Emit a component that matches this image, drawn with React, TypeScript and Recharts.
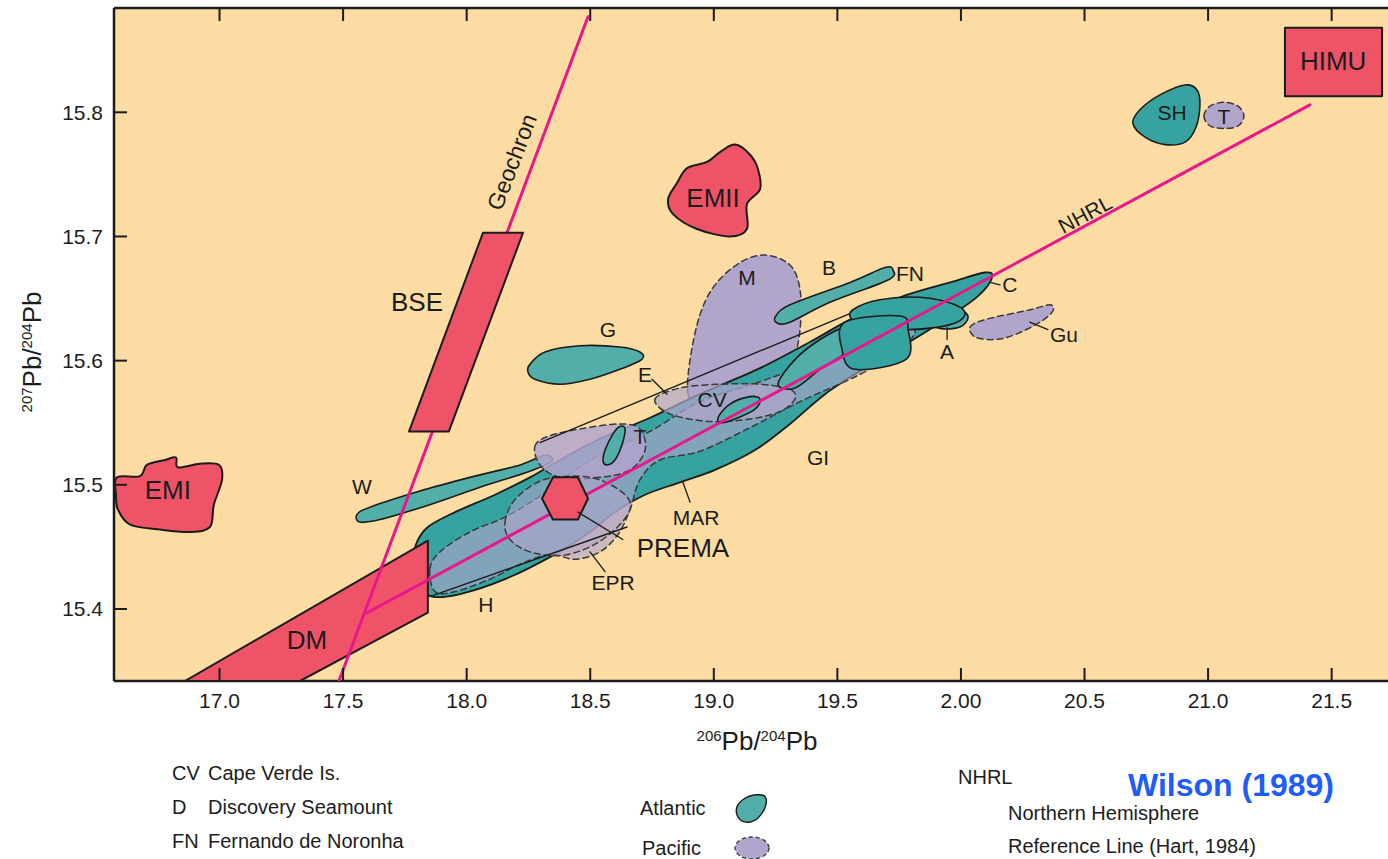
import React from "react";
import { ScatterChart, Scatter, XAxis, YAxis, ReferenceArea } from "recharts";

const FONT = '"Liberation Sans", Arial, Helvetica, sans-serif';
const INK = "#1c1c1c";
const PEACH = "#fcdca2";
const RED = "#ef5368";
const TEAL = "#36a3a1";
const TEAL_LIGHT = "#52aea9";
const LILAC = "#b2a5cc";
const MAGENTA = "#e8178c";

// 206Pb/204Pb (x) and 207Pb/204Pb (y) ranges
const xRange = [16.573, 21.728];
const yRange = [15.342, 15.884];

const xTicks = [17, 17.5, 18, 18.5, 19, 19.5, 20, 20.5, 21, 21.5];
const xTickLabels = ["17.0", "17.5", "18.0", "18.5", "19.0", "19.5", "2.00", "20.5", "21.0", "21.5"];
const yTicks = [15.4, 15.5, 15.6, 15.7, 15.8];
const yTickLabels = ["15.4", "15.5", "15.6", "15.7", "15.8"];

type Pt = { x: number; y: number };
const pts = (arr: number[][]): Pt[] => arr.map(([x, y]) => ({ x, y }));

// mantle end-members
const dmBox = pts([[16.86, 15.342], [17.326, 15.342], [17.843, 15.397], [17.843, 15.455]]);
const bseBox = pts([[18.066, 15.703], [18.228, 15.703], [17.928, 15.543], [17.767, 15.543]]);
const himuBox = pts([[21.311, 15.868], [21.704, 15.868], [21.704, 15.813], [21.311, 15.813]]);
const premaHex = pts([[18.305, 15.489], [18.349, 15.506], [18.45, 15.506], [18.491, 15.489], [18.45, 15.472], [18.349, 15.472]]);
const emiBlob = pts([[16.585, 15.506], [16.678, 15.507], [16.706, 15.516], [16.779, 15.52], [16.824, 15.522], [16.832, 15.514], [16.921, 15.517], [16.998, 15.516], [17.01, 15.504], [16.977, 15.484], [16.961, 15.466], [16.88, 15.462], [16.759, 15.464], [16.638, 15.468], [16.589, 15.48], [16.581, 15.492]]);
const emiiBlob = pts([[18.892, 15.755], [18.972, 15.76], [19.025, 15.768], [19.086, 15.774], [19.146, 15.766], [19.179, 15.754], [19.187, 15.738], [19.134, 15.726], [19.134, 15.706], [19.065, 15.7], [18.932, 15.706], [18.835, 15.718], [18.815, 15.73], [18.851, 15.743]]);

// reference lines
const geochron = pts([[17.483, 15.342], [18.491, 15.877]]);
const nhrl = pts([[17.597, 15.397], [21.412, 15.806]]);

// Atlantic islands / ridge
const marField = pts([[17.787, 15.436], [17.795, 15.452], [17.843, 15.466], [17.953, 15.478], [18.115, 15.492], [18.256, 15.506], [18.378, 15.52], [18.539, 15.537], [18.742, 15.554], [18.944, 15.573], [19.187, 15.594], [19.389, 15.615], [19.551, 15.633], [19.753, 15.651], [19.956, 15.663], [20.097, 15.671], [20.126, 15.667], [20.069, 15.652], [19.935, 15.633], [19.774, 15.613], [19.612, 15.594], [19.45, 15.573], [19.308, 15.549], [19.167, 15.528], [19.005, 15.512], [18.863, 15.502], [18.722, 15.492], [18.6, 15.478], [18.499, 15.462], [18.357, 15.444], [18.155, 15.424], [17.973, 15.412], [17.86, 15.41], [17.803, 15.42]]);
const walvis = pts([[17.556, 15.476], [17.609, 15.482], [17.811, 15.495], [18.013, 15.506], [18.216, 15.516], [18.317, 15.524], [18.345, 15.519], [18.256, 15.511], [18.054, 15.498], [17.851, 15.484], [17.649, 15.472], [17.568, 15.47]]);
const gough = pts([[18.256, 15.597], [18.317, 15.607], [18.458, 15.612], [18.62, 15.611], [18.701, 15.607], [18.709, 15.601], [18.62, 15.593], [18.499, 15.585], [18.378, 15.581], [18.276, 15.585], [18.248, 15.591]]);
const bermudaFN = pts([[19.248, 15.635], [19.308, 15.645], [19.551, 15.663], [19.693, 15.675], [19.725, 15.673], [19.705, 15.665], [19.47, 15.647], [19.308, 15.631], [19.26, 15.63]]);
const stHelena = pts([[20.724, 15.802], [20.805, 15.814], [20.907, 15.822], [20.955, 15.818], [20.967, 15.806], [20.951, 15.788], [20.907, 15.776], [20.826, 15.774], [20.745, 15.78], [20.696, 15.791]]);
const tristan = pts([[18.552, 15.519], [18.56, 15.528], [18.592, 15.541], [18.62, 15.547], [18.641, 15.545], [18.628, 15.532], [18.6, 15.52], [18.568, 15.516]]);
const capeVerde = pts([[19.017, 15.554], [19.065, 15.565], [19.146, 15.571], [19.187, 15.569], [19.167, 15.561], [19.086, 15.553], [19.033, 15.55]]);
const ascension = pts([[19.854, 15.633], [19.915, 15.641], [19.996, 15.641], [20.029, 15.635], [19.996, 15.627], [19.915, 15.626]]);
const azoresA = pts([[19.563, 15.641], [19.672, 15.649], [19.834, 15.651], [19.976, 15.645], [20.016, 15.637], [19.956, 15.629], [19.794, 15.625], [19.632, 15.627], [19.559, 15.633]]);
const azoresB = pts([[19.531, 15.631], [19.753, 15.636], [19.786, 15.625], [19.778, 15.601], [19.571, 15.593], [19.519, 15.609]]);
const azoresC = pts([[19.26, 15.581], [19.329, 15.601], [19.43, 15.617], [19.531, 15.627], [19.6, 15.625], [19.551, 15.609], [19.43, 15.593], [19.329, 15.578]]);

// Pacific islands / rise
const eprField = pts([[17.851, 15.432], [17.892, 15.446], [18.013, 15.462], [18.155, 15.474], [18.297, 15.491], [18.398, 15.506], [18.539, 15.524], [18.742, 15.543], [18.944, 15.567], [19.187, 15.583], [19.43, 15.601], [19.632, 15.617], [19.774, 15.629], [19.814, 15.623], [19.753, 15.609], [19.592, 15.589], [19.349, 15.567], [19.146, 15.546], [18.944, 15.527], [18.782, 15.52], [18.701, 15.504], [18.661, 15.48], [18.612, 15.46], [18.539, 15.446], [18.438, 15.44], [18.337, 15.444], [18.216, 15.436], [18.094, 15.424], [17.953, 15.414], [17.872, 15.414]]);
const tahitiZone = pts([[18.276, 15.531], [18.329, 15.539], [18.458, 15.545], [18.62, 15.549], [18.701, 15.545], [18.722, 15.528], [18.661, 15.512], [18.539, 15.506], [18.378, 15.506], [18.297, 15.516]]);
const premaLoop = pts([[18.155, 15.47], [18.195, 15.488], [18.297, 15.503], [18.418, 15.507], [18.539, 15.504], [18.641, 15.492], [18.661, 15.48], [18.6, 15.464], [18.499, 15.45], [18.378, 15.443], [18.256, 15.446], [18.175, 15.456]]);
const cvLoop = pts([[18.762, 15.569], [18.863, 15.578], [19.025, 15.581], [19.187, 15.581], [19.308, 15.577], [19.328, 15.569], [19.268, 15.559], [19.146, 15.553], [18.985, 15.551], [18.823, 15.557]]);
const marquesas = pts([[18.896, 15.573], [18.904, 15.601], [18.944, 15.637], [19.005, 15.661], [19.106, 15.679], [19.207, 15.685], [19.308, 15.677], [19.349, 15.657], [19.349, 15.625], [19.32, 15.597], [19.268, 15.573], [19.106, 15.561], [18.944, 15.565]]);
const guadalupe = pts([[20.037, 15.627], [20.097, 15.633], [20.279, 15.641], [20.36, 15.645], [20.372, 15.64], [20.32, 15.631], [20.219, 15.621], [20.138, 15.617], [20.057, 15.619]]);
const tubuai = pts([[20.983, 15.797], [21.008, 15.805], [21.064, 15.808], [21.121, 15.805], [21.145, 15.797], [21.121, 15.789], [21.064, 15.787], [21.008, 15.789]]);
const hawaiiUpper = pts([[18.297, 15.534], [19.672, 15.648]]);
const hawaiiLower = pts([[17.851, 15.41], [18.649, 15.466]]);

// label leaders
const leaders = [
  pts([[18.45, 15.478], [18.632, 15.456]]),
  pts([[18.499, 15.446], [18.56, 15.43]]),
  pts([[18.875, 15.502], [18.904, 15.486]]),
  pts([[18.75, 15.585], [18.811, 15.573]]),
  pts([[20.118, 15.663], [20.158, 15.661]]),
  pts([[19.944, 15.627], [19.944, 15.617]]),
  pts([[20.279, 15.631], [20.352, 15.625]]),
];

const bigLabels = [
  { x: 16.791, y: 15.496, text: "EMI" },
  { x: 18.997, y: 15.731, text: "EMII" },
  { x: 21.506, y: 15.841, text: "HIMU" },
  { x: 17.799, y: 15.647, text: "BSE" },
  { x: 17.354, y: 15.375, text: "DM" },
  { x: 18.875, y: 15.449, text: "PREMA" },
];
const smallLabels = [
  { x: 17.576, y: 15.499, text: "W" },
  { x: 18.701, y: 15.539, text: "T" },
  { x: 18.993, y: 15.569, text: "CV" },
  { x: 18.722, y: 15.589, text: "E" },
  { x: 18.572, y: 15.625, text: "G" },
  { x: 19.134, y: 15.667, text: "M" },
  { x: 19.466, y: 15.675, text: "B" },
  { x: 19.794, y: 15.67, text: "FN" },
  { x: 20.198, y: 15.661, text: "C" },
  { x: 19.944, y: 15.607, text: "A" },
  { x: 20.417, y: 15.621, text: "Gu" },
  { x: 19.422, y: 15.522, text: "GI" },
  { x: 20.854, y: 15.8, text: "SH" },
  { x: 21.064, y: 15.797, text: "T" },
  { x: 18.592, y: 15.421, text: "EPR" },
  { x: 18.928, y: 15.474, text: "MAR" },
  { x: 18.078, y: 15.404, text: "H" },
];
const geochronLabel = [{ x: 18.183, y: 15.76, text: "Geochron" }];
const nhrlLabel = [{ x: 20.502, y: 15.718, text: "NHRL" }];

// closed Catmull-Rom outline through the points
function smoothClosed(p: Pt[]) {
  const n = p.length;
  let d = `M${p[0].x},${p[0].y}`;
  for (let i = 0; i < n; i++) {
    const p0 = p[(i - 1 + n) % n];
    const p1 = p[i];
    const p2 = p[(i + 1) % n];
    const p3 = p[(i + 2) % n];
    const c1x = p1.x + (p2.x - p0.x) / 6;
    const c1y = p1.y + (p2.y - p0.y) / 6;
    const c2x = p2.x - (p3.x - p1.x) / 6;
    const c2y = p2.y - (p3.y - p1.y) / 6;
    d += `C${c1x},${c1y} ${c2x},${c2y} ${p2.x},${p2.y}`;
  }
  return d + "Z";
}

function straight(p: Pt[], closed: boolean) {
  const d = p.map((q, i) => `${i ? "L" : "M"}${q.x},${q.y}`).join("");
  return closed ? d + "Z" : d;
}

const noDot = () => <g />;

type Look = {
  fill?: string;
  opacity?: number;
  stroke?: string;
  width?: number;
  dash?: string;
  smooth?: boolean;
  open?: boolean;
};

function region(key: string, data: Pt[], look: Look) {
  return (
    <Scatter
      key={key}
      data={data}
      isAnimationActive={false}
      shape={noDot}
      line={(p: any) => (
        <path
          d={look.smooth ? smoothClosed(p.points) : straight(p.points, !look.open)}
          fill={look.open ? "none" : look.fill || "none"}
          fillOpacity={look.opacity ?? 1}
          stroke={look.stroke ?? INK}
          strokeWidth={look.width ?? 1.6}
          strokeDasharray={look.dash}
          strokeLinejoin="round"
          strokeLinecap="round"
        />
      )}
    />
  );
}

function labels(key: string, data: any[], size: number, angle = 0) {
  return (
    <Scatter
      key={key}
      data={data}
      isAnimationActive={false}
      shape={(p: any) => (
        <text
          x={p.cx}
          y={p.cy}
          textAnchor="middle"
          dominantBaseline="central"
          fontSize={size}
          fontFamily={FONT}
          fill={INK}
          transform={angle ? `rotate(${angle} ${p.cx} ${p.cy})` : undefined}
        >
          {p.payload.text}
        </text>
      )}
    />
  );
}

const atlantic = { fill: TEAL_LIGHT, smooth: true };
const pacific = { fill: LILAC, smooth: true, dash: "6 4", stroke: "#3a3a3a", width: 1.5 };
const endMember = { fill: RED, width: 2 };

const near = (a: number, b: number) => Math.abs(a - b) < 1e-6;

function BottomTick(props: any) {
  const { x, y, payload } = props;
  const i = xTicks.findIndex((t) => near(t, payload.value));
  return (
    <g>
      <line x1={x} x2={x} y1={y} y2={y - 13} stroke={INK} strokeWidth={2} />
      <text x={x} y={y + 19} textAnchor="middle" dominantBaseline="central" fontSize={21} fontFamily={FONT} fill={INK}>
        {xTickLabels[i]}
      </text>
    </g>
  );
}

function TopTick(props: any) {
  const { x, y } = props;
  return <line x1={x} x2={x} y1={y} y2={y + 13} stroke={INK} strokeWidth={2} />;
}

function LeftTick(props: any) {
  const { x, y, payload } = props;
  const i = yTicks.findIndex((t) => near(t, payload.value));
  return (
    <g>
      <line x1={x} x2={x + 13} y1={y} y2={y} stroke={INK} strokeWidth={2} />
      <text x={x - 11} y={y} textAnchor="end" dominantBaseline="central" fontSize={21} fontFamily={FONT} fill={INK}>
        {yTickLabels[i]}
      </text>
    </g>
  );
}

function Footer() {
  const t = { fontFamily: FONT, fill: INK, fontSize: 20 } as const;
  return (
    <svg width={1388} height={859} style={{ position: "absolute", left: 0, top: 0, pointerEvents: "none" }}>
      <text x={757} y={750} textAnchor="middle" {...t} fontSize={26}>
        <tspan fontSize={15} dy={-9}>206</tspan>
        <tspan dy={9}>Pb/</tspan>
        <tspan fontSize={15} dy={-9}>204</tspan>
        <tspan dy={9}>Pb</tspan>
      </text>
      <text transform="translate(41,352) rotate(-90)" textAnchor="middle" {...t} fontSize={26}>
        <tspan fontSize={15} dy={-9}>207</tspan>
        <tspan dy={9}>Pb/</tspan>
        <tspan fontSize={15} dy={-9}>204</tspan>
        <tspan dy={9}>Pb</tspan>
      </text>

      <text x={172} y={780} {...t}>CV</text>
      <text x={208} y={780} {...t}>Cape Verde Is.</text>
      <text x={172} y={814} {...t}>D</text>
      <text x={208} y={814} {...t}>Discovery Seamount</text>
      <text x={172} y={848} {...t}>FN</text>
      <text x={208} y={848} {...t}>Fernando de Noronha</text>

      <text x={640} y={815} {...t}>Atlantic</text>
      <path d="M737,815 C733,803 748,793 762,795 C770,797 766,810 758,818 C750,825 740,823 737,815 Z" fill={TEAL_LIGHT} stroke={INK} strokeWidth={1.4} />
      <text x={642} y={855} {...t}>Pacific</text>
      <ellipse cx={752} cy={848} rx={17} ry={11} fill={LILAC} stroke="#3a3a3a" strokeWidth={1.4} strokeDasharray="4 3" />

      <text x={958} y={784} {...t}>NHRL</text>
      <text x={1008} y={820} {...t}>Northern Hemisphere</text>
      <text x={1008} y={853} {...t}>Reference Line (Hart, 1984)</text>
      <text x={1128} y={796} fontFamily={FONT} fontSize={32} fontWeight="bold" fill="#1f5cff">
        Wilson (1989)
      </text>
    </svg>
  );
}

export default function App() {
  return (
    <div style={{ position: "absolute", left: 0, top: 0, width: 1388, height: 859, background: "#fff" }}>
      <ScatterChart width={1388} height={859} margin={{ top: 0, right: 0, bottom: 118, left: 0 }}>
        <XAxis
          type="number"
          dataKey="x"
          domain={xRange}
          allowDataOverflow
          ticks={xTicks}
          interval={0}
          height={60}
          tickSize={0}
          tickMargin={0}
          tickLine={false}
          axisLine={{ stroke: INK, strokeWidth: 2.5 }}
          tick={<BottomTick />}
        />
        <XAxis
          xAxisId="top"
          orientation="top"
          type="number"
          dataKey="x"
          domain={xRange}
          allowDataOverflow
          ticks={xTicks}
          interval={0}
          height={8}
          tickSize={0}
          tickMargin={0}
          tickLine={false}
          axisLine={{ stroke: INK, strokeWidth: 2.5 }}
          tick={<TopTick />}
        />
        <YAxis
          type="number"
          dataKey="y"
          domain={yRange}
          allowDataOverflow
          ticks={yTicks}
          interval={0}
          width={114}
          tickSize={0}
          tickMargin={0}
          tickLine={false}
          axisLine={{ stroke: INK, strokeWidth: 2.5 }}
          tick={<LeftTick />}
        />
        <ReferenceArea x1={xRange[0]} x2={xRange[1]} y1={yRange[0]} y2={yRange[1]} fill={PEACH} fillOpacity={1} stroke="none" />

        {region("m", marquesas, pacific)}
        {region("g", gough, atlantic)}
        {region("w", walvis, atlantic)}
        {region("bfn", bermudaFN, atlantic)}
        {region("sh", stHelena, { ...atlantic, fill: TEAL })}
        {region("tu", tubuai, pacific)}
        {region("gu", guadalupe, pacific)}

        {region("mar", marField, { fill: TEAL, smooth: true, width: 1.8 })}
        {region("epr", eprField, { ...pacific, opacity: 0.62 })}
        {region("tz", tahitiZone, { ...pacific, opacity: 0.85 })}
        {region("pl", premaLoop, { ...pacific, opacity: 0.55 })}
        {region("cvl", cvLoop, { ...pacific, opacity: 0.7 })}
        {region("hu", hawaiiUpper, { open: true, width: 1.4 })}
        {region("hl", hawaiiLower, { open: true, width: 1.4 })}

        {region("az3", azoresC, atlantic)}
        {region("asc", ascension, atlantic)}
        {region("az1", azoresA, { ...atlantic, fill: TEAL })}
        {region("az2", azoresB, { ...atlantic, fill: TEAL })}
        {region("tr", tristan, atlantic)}
        {region("cv", capeVerde, atlantic)}

        {region("dm", dmBox, endMember)}
        {region("geo", geochron, { open: true, stroke: MAGENTA, width: 3 })}
        {region("nhrl", nhrl, { open: true, stroke: MAGENTA, width: 3 })}
        {region("bse", bseBox, endMember)}
        {region("himu", himuBox, endMember)}
        {region("emi", emiBlob, { ...endMember, smooth: true })}
        {region("emii", emiiBlob, { ...endMember, smooth: true })}
        {region("prema", premaHex, endMember)}

        {leaders.map((l, i) => region(`ld${i}`, l, { open: true, width: 1.3 }))}
        {labels("big", bigLabels, 26)}
        {labels("small", smallLabels, 21)}
        {labels("geoLbl", geochronLabel, 23, -69)}
        {labels("nhrlLbl", nhrlLabel, 21, -28)}
      </ScatterChart>
      <Footer />
    </div>
  );
}
